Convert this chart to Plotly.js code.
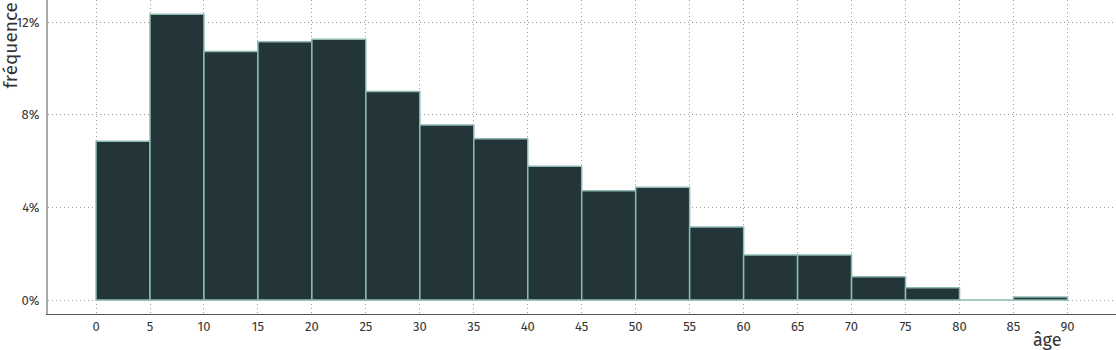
<!DOCTYPE html>
<html>
<head>
<meta charset="utf-8">
<script src="https://cdn.plot.ly/plotly-3.0.1.min.js"></script>
<style>html,body{margin:0;padding:0;background:#fff;}#chart{width:1116px;height:350px;}</style>
</head>
<body>
<div id="chart"></div>
<script>
// Age bins (start of each 5-year bin) and relative frequencies
const binStarts = [0, 5, 10, 15, 20, 25, 30, 35, 40, 45, 50, 55, 60, 65, 70, 75, 80, 85];
const binWidth = 5;
const frequencies = [0.0685, 0.1233, 0.1073, 0.1115, 0.1126, 0.0900, 0.0755, 0.0696, 0.0577, 0.0472, 0.0487, 0.0315, 0.0194, 0.0194, 0.0100, 0.0053, 0.0000, 0.0013];
const xTicks = [0, 5, 10, 15, 20, 25, 30, 35, 40, 45, 50, 55, 60, 65, 70, 75, 80, 85, 90];
const yTicks = [0, 0.04, 0.08, 0.12];

const fontFam = '"Fira Sans", "Noto Sans", "Open Sans", sans-serif';

const trace = {
  type: 'bar',
  x: binStarts,
  y: frequencies,
  offset: 0,
  width: binStarts.map(() => binWidth),
  marker: {color: '#243539', line: {color: '#8dbab2', width: 1.5}},
  hoverinfo: 'x+y'
};

const layout = {
  width: 1116, height: 350,
  margin: {l: 48, r: 0, t: 0, b: 36},
  paper_bgcolor: '#fff', plot_bgcolor: '#fff',
  showlegend: false,
  font: {family: fontFam, size: 13, color: '#333'},
  xaxis: {
    range: [-4.45, 94.5],
    tickmode: 'array', tickvals: xTicks, ticktext: xTicks.map(String),
    showgrid: true, gridcolor: '#999', griddash: '1px,3px', gridwidth: 1,
    zeroline: false,
    showline: true, linecolor: '#555', linewidth: 1,
    ticks: '', ticklen: 0,
    tickfont: {family: fontFam, size: 13, color: '#333'},
    fixedrange: true
  },
  yaxis: {
    range: [-0.00604, 0.1295],
    tickmode: 'array', tickvals: yTicks, ticktext: ['0%', '4%', '8%', '12%'],
    showgrid: true, gridcolor: '#999', griddash: '1px,3px', gridwidth: 1,
    zeroline: false,
    showline: true, linecolor: '#aaa', linewidth: 2,
    ticks: '', ticklen: 0, ticklabelstandoff: 4,
    tickfont: {family: fontFam, size: 13, color: '#333'},
    fixedrange: true
  },
  annotations: [
    {text: 'fréquence', xref: 'paper', yref: 'paper', x: 0, y: 1, xanchor: 'right', yanchor: 'top',
     xshift: -25, yshift: -1, textangle: -90, showarrow: false, font: {family: fontFam, size: 19, color: '#333'}},
    {text: 'âge', xref: 'x', yref: 'paper', x: 90, y: 0, xanchor: 'right', yanchor: 'bottom',
     yshift: -39, xshift: -3, showarrow: false, font: {family: fontFam, size: 18, color: '#333'}}
  ]
};

Plotly.newPlot('chart', [trace], layout, {displayModeBar: false, staticPlot: true});
</script>
</body>
</html>
